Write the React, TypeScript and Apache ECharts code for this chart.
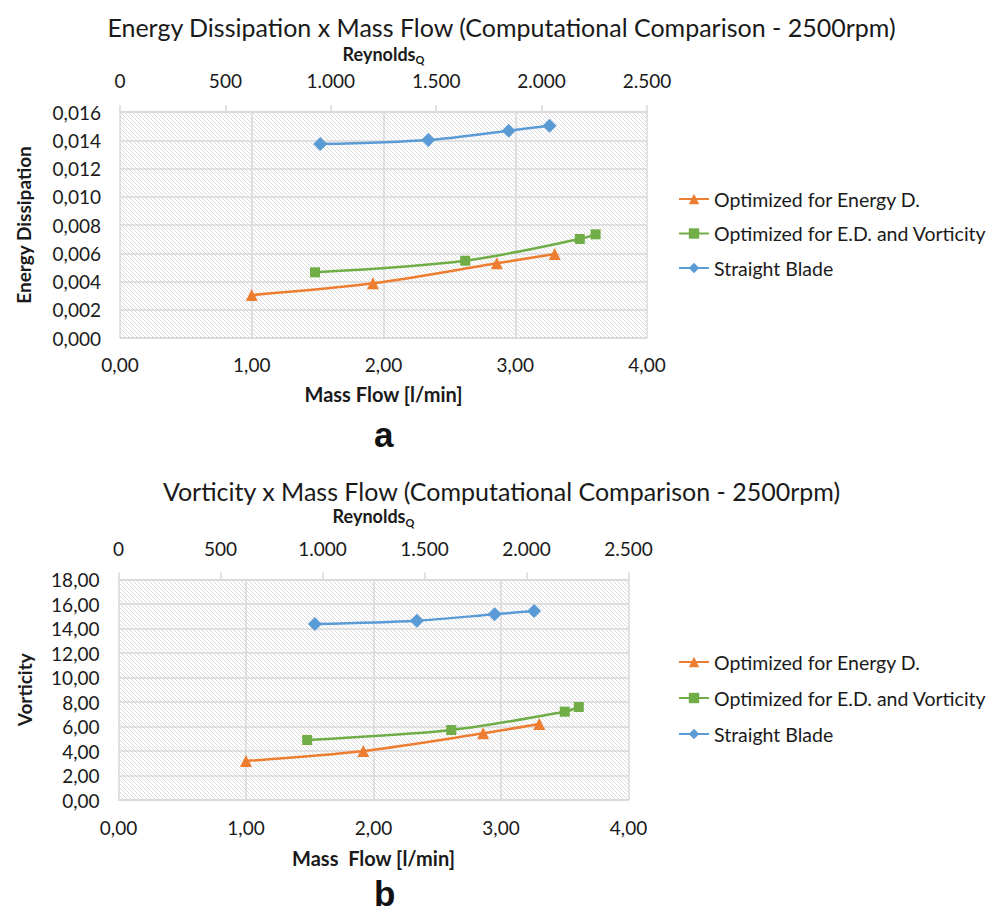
import React, { useEffect, useRef } from 'react';
import * as echarts from 'echarts';

// ---- Data ----
const seriesNames = ['Optimized for Energy D.', 'Optimized for E.D. and Vorticity', 'Straight Blade'];

// Chart a: Energy Dissipation
const flowA_optEnergy = [1.0, 1.92, 2.86, 3.3];
const edA_optEnergy = [0.00304, 0.00387, 0.00529, 0.00595];
const flowA_optEDV = [1.48, 2.62, 3.49, 3.61];
const edA_optEDV = [0.00465, 0.00547, 0.00701, 0.00734];
const flowA_straight = [1.52, 2.34, 2.95, 3.26];
const edA_straight = [0.01373, 0.01402, 0.01468, 0.01503];

// Chart b: Vorticity
const flowB_optEnergy = [1.0, 1.92, 2.86, 3.3];
const vortB_optEnergy = [3.18, 4.0, 5.44, 6.2];
const flowB_optEDV = [1.48, 2.61, 3.5, 3.61];
const vortB_optEDV = [4.9, 5.71, 7.21, 7.59];
const flowB_straight = [1.54, 2.34, 2.95, 3.26];
const vortB_straight = [14.37, 14.64, 15.16, 15.43];

const massFlowRange = [0, 4];
const reynoldsRange = [0, 2500];

const colors = ['#ED7D31', '#70AD47', '#5B9BD5'];
const symbols = ['triangle', 'rect', 'diamond'];
const symbolSizes = [12, 10, 14];

const FONT = 'Lato';
const TXT = '#1a1a1a';

function zip(xs: number[], ys: number[]) {
  return xs.map((x, i) => [x, ys[i]]);
}

function makeHatch() {
  const s = 4;
  const c = document.createElement('canvas');
  c.width = s;
  c.height = s;
  const ctx = c.getContext('2d')!;
  ctx.fillStyle = '#ffffff';
  ctx.fillRect(0, 0, s, s);
  ctx.strokeStyle = '#dcdcdc';
  ctx.lineWidth = 1;
  for (const k of [-s, 0, s]) {
    ctx.beginPath();
    ctx.moveTo(k - 1, -1);
    ctx.lineTo(k + s + 1, s + 1);
    ctx.stroke();
  }
  return c;
}

const fmt = (d: number) => (v: number) => v.toFixed(d).replace('.', ',');
const fmtThousands = (v: number) => (v >= 1000 ? (v / 1000).toFixed(3) : String(v));

export default function App() {
  const ref = useRef<HTMLDivElement>(null);
  useEffect(() => {
    if (!ref.current) return;
    const chart = echarts.init(ref.current, undefined, { renderer: 'svg' });
    const hatch = makeHatch();
    const pattern: any = { image: hatch, repeat: 'repeat', imageWidth: 4, imageHeight: 4 };

    const grids = [
      { left: 120, top: 112, width: 527, height: 226 },
      { left: 118.5, top: 579.5, width: 510, height: 220.5 },
    ];

    const gridLine = { show: true, lineStyle: { color: '#d9d9d9', width: 1.5 } };

    const mainX = (gi: number, labelMargin: number, nameGap: number) => ({
      type: 'value',
      gridIndex: gi,
      position: 'bottom',
      min: massFlowRange[0],
      max: massFlowRange[1],
      interval: 1,
      name: gi === 0 ? 'Mass Flow [l/min]' : 'Mass  Flow [l/min]',
      nameLocation: 'middle',
      nameGap,
      nameTextStyle: { fontFamily: FONT, fontWeight: 'bold', fontSize: 20, color: TXT },
      axisLine: { show: true, lineStyle: { color: '#d9d9d9', width: 1.5 } },
      axisTick: { show: false },
      axisLabel: { formatter: fmt(2), fontFamily: FONT, fontSize: 19, color: TXT, margin: labelMargin },
      splitLine: gridLine,
    });

    const topX = (gi: number, labelMargin: number, nameGap: number) => ({
      type: 'value',
      gridIndex: gi,
      position: 'top',
      min: reynoldsRange[0],
      max: reynoldsRange[1],
      interval: 500,
      name: '{a|Reynolds}{s|Q}',
      nameLocation: 'middle',
      nameGap,
      nameTextStyle: {
        rich: {
          a: { fontFamily: FONT, fontWeight: 'bold', fontSize: 18, color: TXT },
          s: { fontFamily: FONT, fontWeight: 'bold', fontSize: 11, color: TXT, verticalAlign: 'bottom', padding: [12, 0, 0, 0] },
        },
      },
      axisLine: { show: true, lineStyle: { color: '#d9d9d9', width: 1.5 } },
      axisTick: { show: true, inside: false, length: 7, lineStyle: { color: '#d9d9d9', width: 1.5 } },
      axisLabel: { formatter: fmtThousands, fontFamily: FONT, fontSize: 19, color: TXT, margin: labelMargin },
      splitLine: { show: false },
    });

    const yAxis = (gi: number, max: number, interval: number, dec: number, name: string, gap: number) => ({
      type: 'value',
      gridIndex: gi,
      min: 0,
      max,
      interval,
      name,
      nameLocation: 'middle',
      nameGap: gap,
      nameTextStyle: { fontFamily: FONT, fontWeight: 'bold', fontSize: 19, color: TXT },
      axisLine: { show: false },
      axisTick: { show: false },
      axisLabel: { formatter: fmt(dec), fontFamily: FONT, fontSize: 19, color: TXT, margin: 19 },
      splitLine: gridLine,
    });

    const mk = (i: number, data: number[][], xi: number, yi: number) => ({
      name: seriesNames[i],
      type: 'line',
      xAxisIndex: xi,
      yAxisIndex: yi,
      data,
      smooth: 0.3,
      symbol: symbols[i],
      symbolSize: symbolSizes[i],
      lineStyle: { color: colors[i], width: 2.5 },
      itemStyle: { color: colors[i] },
      z: 3 + i,
    });

    const legend = (top: number, gap: number) => ({
      orient: 'vertical',
      left: 678,
      top,
      padding: 0,
      itemWidth: 30,
      itemHeight: 13,
      itemGap: gap,
      data: seriesNames,
      textStyle: { fontFamily: FONT, fontSize: 19.5, color: TXT },
    });

    const option: any = {
      animation: false,
      backgroundColor: '#ffffff',
      title: [
        {
          text: 'Energy Dissipation x Mass Flow (Computational Comparison - 2500rpm)',
          left: 'center',
          top: 9,
          textStyle: { fontFamily: FONT, fontWeight: 'normal', fontSize: 25, color: TXT },
        },
        {
          text: 'Vorticity x Mass Flow (Computational Comparison - 2500rpm)',
          left: 'center',
          top: 473,
          textStyle: { fontFamily: FONT, fontWeight: 'normal', fontSize: 25, color: TXT },
        },
        {
          text: 'a',
          left: 369,
          top: 412,
          textStyle: { fontFamily: 'Liberation Sans', fontWeight: 'bold', fontSize: 35, color: '#111' },
        },
        {
          text: 'b',
          left: 369,
          top: 871,
          textStyle: { fontFamily: 'Liberation Sans', fontWeight: 'bold', fontSize: 35, color: '#111' },
        },
      ],
      legend: [legend(189, 14.5), legend(652, 16)],
      grid: grids.map((g) => ({ ...g, show: true, borderWidth: 0, backgroundColor: pattern })),
      xAxis: [mainX(0, 17, 46), topX(0, 22, 47), mainX(1, 18, 48), topX(1, 22, 52)],
      yAxis: [
        yAxis(0, 0.016, 0.002, 3, 'Energy Dissipation', 87),
        yAxis(1, 18, 2, 2, 'Vorticity', 85),
      ],
      series: [
        mk(0, zip(flowA_optEnergy, edA_optEnergy), 0, 0),
        mk(1, zip(flowA_optEDV, edA_optEDV), 0, 0),
        mk(2, zip(flowA_straight, edA_straight), 0, 0),
        mk(0, zip(flowB_optEnergy, vortB_optEnergy), 2, 1),
        mk(1, zip(flowB_optEDV, vortB_optEDV), 2, 1),
        mk(2, zip(flowB_straight, vortB_straight), 2, 1),
      ],
    };
    chart.setOption(option);
    return () => chart.dispose();
  }, []);
  return (
    <div
      ref={ref}
      style={{ position: 'fixed', left: 0, top: 0, width: 1003, height: 917, background: '#fff' }}
    />
  );
}
